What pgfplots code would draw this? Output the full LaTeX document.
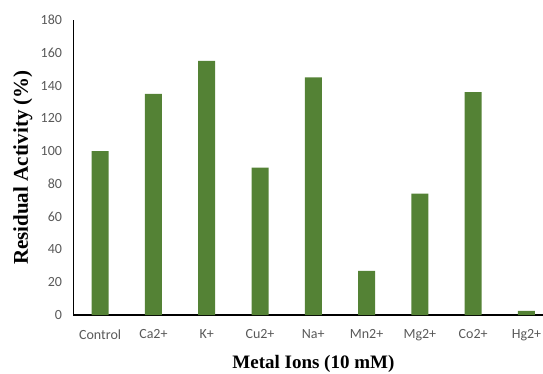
\documentclass[border=0pt]{standalone}
\usepackage{pgfplots}
\pgfplotsset{compat=1.18}
\usepackage{fontspec}
\setmainfont{Liberation Serif}
\newfontfamily\carlito{Carlito}
\definecolor{bargreen}{HTML}{548235}
\definecolor{ticktext}{HTML}{595959}
\begin{document}
\begin{tikzpicture}
\begin{axis}[
  scale only axis,
  width=469.5pt, height=295pt,
  xmin=-0.5, xmax=8.31,
  ymin=0, ymax=180,
  axis x line=bottom, axis y line=left,
  axis line style={-, line width=1.1pt, black},
  major tick length=0pt,
  xtick={0,1,2,3,4,5,6,7,8},
  xticklabels={Control,Ca2+,K+,Cu2+,Na+,Mn2+,Mg2+,Co2+,Hg2+},
  ytick={0,20,...,180},
  /pgf/number format/assume math mode=true,
  tick label style={font=\carlito\fontsize{14}{16}\selectfont, text=ticktext},
  yticklabel style={xshift=-8pt},
  xticklabel style={yshift=-11pt},
  xlabel={\textbf{Metal Ions (10 mM)}},
  ylabel={\textbf{Residual Activity (\%)}},
  xlabel style={font=\fontsize{19}{22}\selectfont, at={(axis description cs:0.511,-0.166)}, anchor=center},
  ylabel style={font=\fontsize{21}{23}\selectfont, at={(axis description cs:-0.1076,0.5)}, anchor=center},
  clip=false,
]
\addplot[ybar, bar width=17pt, fill=bargreen, draw=none] coordinates {
  (0,100) (1,135) (2,155) (3,90) (4,145) (5,27) (6,74) (7,136) (8,2.5)
};
\end{axis}
\pgfresetboundingbox
\useasboundingbox (-73.5pt,-58pt) rectangle (469.5pt,315pt);
\end{tikzpicture}
\end{document}
